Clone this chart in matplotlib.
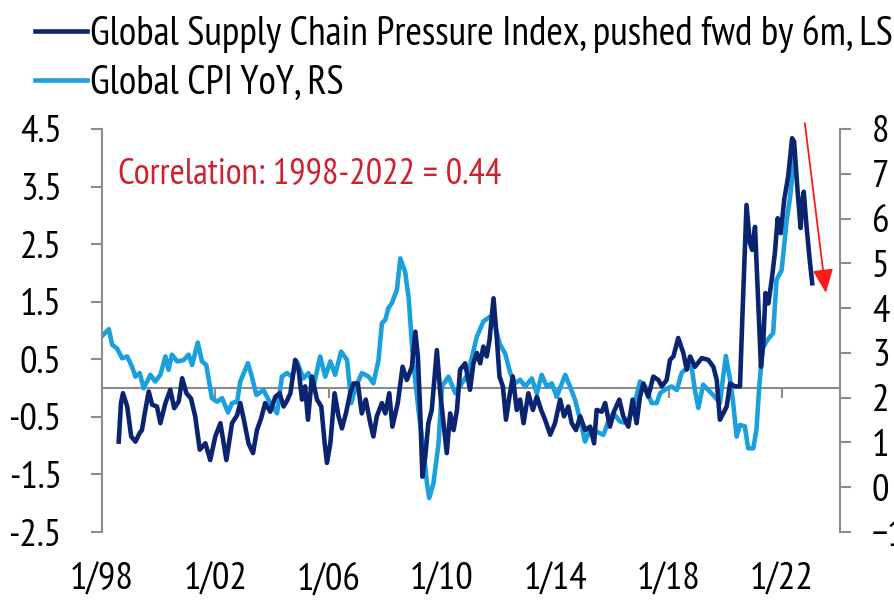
import matplotlib
matplotlib.use("Agg")
import matplotlib.pyplot as plt

# Global CPI YoY (%), right scale  -- decimal year, value
cpi_t = [1998.04, 1998.24, 1998.36, 1998.53, 1998.71, 1998.89, 1999.06, 1999.18, 1999.33, 1999.47,
         1999.71, 1999.88, 2000.06, 2000.24, 2000.35, 2000.47, 2000.65, 2000.88, 2001.06, 2001.18,
         2001.38, 2001.53, 2001.68, 2001.88, 2002.06, 2002.24, 2002.45, 2002.59, 2002.77, 2002.88,
         2003.15, 2003.29, 2003.45, 2003.70, 2003.88, 2004.18, 2004.35, 2004.53, 2004.71, 2004.88,
         2005.11, 2005.29, 2005.47, 2005.70, 2005.88, 2006.06, 2006.23, 2006.44, 2006.65, 2006.80,
         2006.94, 2007.17, 2007.41, 2007.58, 2007.76, 2007.88, 2008.00, 2008.11, 2008.23, 2008.41,
         2008.53, 2008.70, 2008.82, 2008.99, 2009.17, 2009.35, 2009.47, 2009.55, 2009.70, 2009.88,
         2010.00, 2010.23, 2010.47, 2010.70, 2010.94, 2011.02, 2011.23, 2011.46, 2011.70, 2011.88,
         2012.05, 2012.23, 2012.41, 2012.58, 2012.76, 2012.94, 2013.17, 2013.35, 2013.52, 2013.70,
         2013.88, 2014.05, 2014.35, 2014.52, 2014.70, 2014.88, 2015.05, 2015.23, 2015.46, 2015.70,
         2015.87, 2016.05, 2016.28, 2016.52, 2016.75, 2016.99, 2017.17, 2017.40, 2017.58, 2017.70,
         2017.93, 2018.11, 2018.29, 2018.46, 2018.64, 2018.81, 2018.93, 2019.05, 2019.22, 2019.40,
         2019.63, 2019.81, 2020.02, 2020.17, 2020.28, 2020.40, 2020.52, 2020.69, 2020.81, 2020.99,
         2021.10, 2021.20, 2021.32, 2021.50, 2021.69, 2021.81, 2021.99, 2022.17, 2022.29, 2022.44]
cpi_v = [3.40, 3.53, 3.18, 3.10, 2.88, 2.92, 2.69, 2.47, 2.55, 2.21,
         2.51, 2.36, 2.51, 2.92, 2.62, 2.96, 2.81, 2.84, 2.96, 2.73,
         3.23, 2.81, 2.73, 1.99, 1.91, 1.99, 1.67, 1.88, 1.91, 2.36,
         2.77, 2.47, 2.06, 2.17, 1.95, 1.65, 2.47, 2.55, 2.47, 2.81,
         2.43, 2.55, 2.25, 2.92, 2.47, 2.81, 2.51, 3.03, 2.84, 1.88,
         2.21, 2.55, 2.47, 2.32, 2.84, 3.66, 3.74, 4.00, 4.11, 4.41,
         5.11, 4.81, 4.26, 2.77, 1.73, 0.83, 0.09, -0.24, 0.09, 0.98,
         2.25, 2.47, 2.10, 2.32, 2.55, 2.80, 3.36, 3.70, 3.81, 3.59,
         3.18, 2.99, 2.55, 2.32, 2.40, 2.25, 2.43, 2.10, 2.51, 2.25,
         2.32, 2.02, 2.51, 2.25, 1.95, 1.50, 1.02, 1.28, 1.24, 1.17,
         1.47, 1.65, 1.47, 1.43, 1.73, 2.36, 2.25, 1.88, 1.88, 2.10,
         2.20, 2.25, 2.17, 2.55, 2.66, 2.69, 2.17, 1.77, 2.29, 2.17,
         2.02, 1.88, 2.93, 2.40, 1.88, 1.13, 1.39, 1.36, 0.87, 0.87,
         1.28, 2.25, 3.10, 3.30, 3.44, 4.63, 4.85, 5.97, 6.49, 7.38]

# Global Supply Chain Pressure Index pushed forward 6m, left scale
gscpi_t = [1998.59, 1998.67, 1998.74, 1998.89, 1999.03, 1999.18, 1999.33, 1999.41, 1999.53, 1999.65,
           1999.77, 1999.94, 2000.06, 2000.24, 2000.41, 2000.55, 2000.71, 2000.83, 2000.98, 2001.14,
           2001.29, 2001.45, 2001.65, 2001.82, 2002.00, 2002.18, 2002.39, 2002.59, 2002.77, 2002.88,
           2003.02, 2003.17, 2003.33, 2003.47, 2003.62, 2003.76, 2003.94, 2004.12, 2004.27, 2004.41,
           2004.53, 2004.65, 2004.82, 2004.94, 2005.06, 2005.17, 2005.27, 2005.41, 2005.59, 2005.74,
           2005.86, 2005.94, 2006.06, 2006.21, 2006.35, 2006.47, 2006.61, 2006.76, 2006.88, 2007.03,
           2007.17, 2007.31, 2007.47, 2007.58, 2007.70, 2007.88, 2008.00, 2008.14, 2008.25, 2008.44,
           2008.61, 2008.76, 2008.94, 2009.06, 2009.15, 2009.23, 2009.31, 2009.41, 2009.52, 2009.64,
           2009.82, 2009.94, 2010.09, 2010.17, 2010.29, 2010.41, 2010.53, 2010.64, 2010.82, 2010.99,
           2011.11, 2011.23, 2011.35, 2011.46, 2011.58, 2011.68, 2011.82, 2011.94, 2012.03, 2012.15,
           2012.26, 2012.38, 2012.50, 2012.64, 2012.76, 2012.88, 2013.05, 2013.21, 2013.35, 2013.50,
           2013.64, 2013.82, 2013.99, 2014.17, 2014.31, 2014.46, 2014.58, 2014.73, 2014.88, 2015.05,
           2015.23, 2015.37, 2015.46, 2015.64, 2015.76, 2015.93, 2016.07, 2016.26, 2016.40, 2016.58,
           2016.73, 2016.87, 2016.99, 2017.11, 2017.28, 2017.46, 2017.64, 2017.76, 2017.93, 2018.05,
           2018.17, 2018.34, 2018.52, 2018.64, 2018.76, 2018.93, 2019.17, 2019.40, 2019.58, 2019.70,
           2019.81, 2019.93, 2020.05, 2020.17, 2020.34, 2020.52, 2020.60, 2020.75, 2020.87, 2020.95,
           2021.05, 2021.16, 2021.26, 2021.34, 2021.42, 2021.52, 2021.64, 2021.75, 2021.85, 2021.96,
           2022.08, 2022.22, 2022.36, 2022.43, 2022.55, 2022.66, 2022.71, 2022.77, 2022.87, 2022.98,
           2023.07]
gscpi_v = [-0.93, -0.26, -0.09, -0.32, -0.84, -0.93, -0.78, -0.73, -0.38, -0.06,
           -0.29, -0.32, -0.61, -0.26, -0.03, -0.35, -0.23, 0.17, -0.09, -0.18,
           -0.49, -1.07, -0.96, -1.25, -0.84, -0.61, -1.25, -0.61, -0.47, -0.26,
           -0.58, -0.96, -1.13, -0.73, -0.52, -0.26, -0.41, -0.15, -0.09, -0.32,
           -0.22, -0.09, 0.49, 0.32, -0.20, 0.03, -0.55, 0.20, -0.20, -0.32,
           -0.96, -1.30, -0.96, -0.09, -0.49, -0.70, -0.44, -0.09, 0.08, 0.08,
           -0.44, -0.20, -0.61, -0.84, -0.49, -0.26, -0.44, -0.09, -0.67, -0.26,
           0.37, 0.14, 0.37, 0.98, 0.55, -0.38, -1.54, -1.19, -0.61, -0.38,
           0.66, -0.09, -0.78, -1.13, -0.44, -0.73, -0.38, 0.32, 0.43, -0.03,
           0.43, 0.61, 0.43, 0.72, 0.55, 0.84, 1.56, 0.84, 0.20, 0.03,
           -0.55, -0.15, 0.20, -0.38, -0.20, -0.61, -0.09, -0.38, -0.15, -0.38,
           -0.55, -0.81, -0.61, -0.20, -0.49, -0.32, -0.61, -0.73, -0.49, -0.73,
           -0.67, -0.96, -0.38, -0.41, -0.26, -0.67, -0.41, -0.20, -0.49, -0.67,
           -0.20, -0.61, -0.15, 0.08, -0.15, 0.20, 0.14, 0.03, 0.14, 0.49,
           0.55, 0.87, 0.61, 0.32, 0.55, 0.37, 0.52, 0.49, 0.37, 0.14,
           -0.55, -0.44, -0.32, 0.08, 0.03, 0.03, 1.18, 3.18, 2.52, 2.40,
           2.80, 1.53, 0.37, 0.78, 1.65, 1.47, 1.88, 2.34, 2.95, 2.69,
           3.27, 3.67, 4.34, 4.28, 3.44, 2.78, 3.21, 3.41, 2.80, 2.23,
           1.82]

left_ticks = [4.5, 3.5, 2.5, 1.5, 0.5, -0.5, -1.5, -2.5]
right_ticks = [8, 7, 6, 5, 4, 3, 2, 1, 0, -1]
x_ticks = [1998, 2002, 2006, 2010, 2014, 2018, 2022]
x_labels = ["1/98", "1/02", "1/06", "1/10", "1/14", "1/18", "1/22"]

labels = ["Global Supply Chain Pressure Index, pushed fwd by 6m, LS", "Global CPI YoY, RS"]
note = "Correlation: 1998-2022 = 0.44"
arrow_from = (2022.81, 8.13)
arrow_to = (2023.55, 4.34)

NAVY = "#0b2470"
SKY = "#1aa0dc"
GREY = "#8c8c8c"
RED = "#d0202e"

plt.rcParams["font.family"] = ["PT Sans Narrow", "DejaVu Sans"]
plt.rcParams["font.size"] = 28

fig = plt.figure(figsize=(8.94, 6.07), dpi=100)
ax = fig.add_axes([102 / 894, 1 - 532 / 607, 738 / 894, 403 / 607])
ax2 = ax.twinx()
ax.set_zorder(ax2.get_zorder() + 1)
ax.patch.set_visible(False)

l2, = ax2.plot(cpi_t, cpi_v, color=SKY, lw=3.3, solid_joinstyle="round")
l1, = ax.plot(gscpi_t, gscpi_v, color=NAVY, lw=3.3, solid_joinstyle="round")

ax.set_xlim(1998, 2024.05)
ax.set_ylim(-2.5, 4.5)
ax2.set_ylim(-1, 8)
ax.set_yticks(left_ticks)
ax.set_yticklabels([f"{v:.1f}" for v in left_ticks])
ax2.set_yticks(right_ticks)
ax.set_xticks(x_ticks)
ax.set_xticklabels(x_labels)

for s in ["top", "right", "bottom"]:
    ax.spines[s].set_visible(False)
for s in ["top", "left", "bottom"]:
    ax2.spines[s].set_visible(False)
ax.spines["left"].set_color(GREY)
ax.spines["left"].set_linewidth(1.5)
ax2.spines["right"].set_color(GREY)
ax2.spines["right"].set_linewidth(1.5)

ax.tick_params(axis="y", direction="out", length=8, width=1.5, color=GREY, pad=21)
ax2.tick_params(axis="y", direction="out", length=8, width=1.5, color=GREY, pad=15)
ax.tick_params(axis="x", length=0, pad=22)

# zero line of the left scale carrying the date ticks
lo, hi = ax.get_ylim()
zero = ax2.secondary_xaxis((0 - lo) / (hi - lo))
zero.set_xticks(x_ticks)
zero.set_xticklabels([])
zero.tick_params(direction="out", length=7, width=1.5, color=GREY)
zero.spines["bottom"].set_color(GREY)
zero.spines["bottom"].set_linewidth(1.5)

ax.text(0.022, 0.886, note, transform=ax.transAxes, color=RED, va="center", ha="left",
        fontsize=26.3)
ax2.annotate("", xy=arrow_to, xytext=arrow_from,
             arrowprops=dict(arrowstyle="-|>,head_length=0.6,head_width=0.26",
                             color="#ff1a1a", lw=1.3, mutation_scale=24, shrinkA=0, shrinkB=0))

fig.legend([l1, l2], labels, loc="upper left", bbox_to_anchor=(35 / 894, 1 - 15 / 607),
           frameon=False, borderpad=0, borderaxespad=0, handlelength=1.3,
           handletextpad=0.08, labelspacing=0.3, fontsize=28.8)

fig.savefig("out.png", dpi=100)
